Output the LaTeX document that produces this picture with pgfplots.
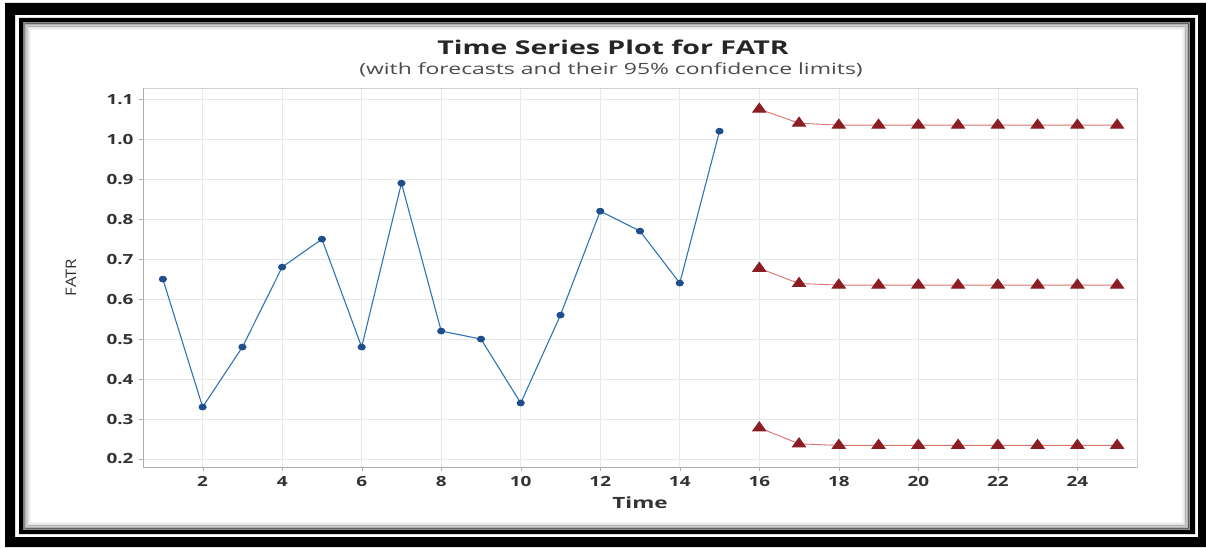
\documentclass[border=0pt]{standalone}
\usepackage{fontspec}
\setmainfont{Open Sans}
\newfontfamily\titlefont[FakeStretch=1.5]{Open Sans}
\newfontfamily\subfont[FakeStretch=1.48]{Open Sans}
\newfontfamily\labfont[FakeStretch=1.45]{Open Sans}
\newfontfamily\tickfont[FakeStretch=1.35]{Open Sans}
\newfontfamily\ylfont[FakeStretch=1.15]{Open Sans}
\usepackage{pgfplots}
\pgfplotsset{compat=1.18}
\definecolor{serblue}{HTML}{2E75B6}
\definecolor{markblue}{HTML}{1F4E8C}
\definecolor{fcred}{HTML}{8B1E24}
\definecolor{fcline}{HTML}{D9756F}
\begin{document}
\begin{tikzpicture}[x=1pt,y=1pt]
\useasboundingbox (0,0) rectangle (1206,547);
\fill[white] (0,0) rectangle (1206,547);
% frame
\fill[black,even odd rule] (5,0) rectangle (1206,544) (15,10) rectangle (1198,532);
\fill[black,even odd rule] (19,13) rectangle (1195,529) (23,17) rectangle (1190,525);
\foreach \i/\o in {0/0.45,1.5/0.3,3/0.2,4.5/0.12,6/0.06}{
  \draw[black,opacity=\o,line width=1.6pt] (23.8+\i,17.8+\i) rectangle (1189.2-\i,524.2-\i);
}
% titles
\node[font=\fontsize{19}{22}\selectfont\titlefont\bfseries, text=black!85] at (613,500) {Time Series Plot for FATR};
\node[font=\fontsize{15.5}{18}\selectfont\subfont, text=black!70] at (611,477) {(with forecasts and their 95\% confidence limits)};
\begin{axis}[
  at={(143pt,80pt)}, anchor=south west,
  width=994pt, height=379pt, scale only axis,
  xmin=0.5, xmax=25.5, ymin=0.18, ymax=1.128,
  xtick={2,4,...,24},
  ytick={0.2,0.3,0.4,0.5,0.6,0.7,0.8,0.9,1.0,1.1},
  yticklabel style={/pgf/number format/fixed,/pgf/number format/fixed zerofill,/pgf/number format/precision=1},
  /pgf/number format/assume math mode=true,
  tick label style={font=\fontsize{14}{16}\selectfont\tickfont\bfseries, text=black!80},
  tick align=outside, tick pos=left,
  major tick length=4pt,
  tick style={gray!60},
  grid=major,
  major grid style={gray!18, line width=0.6pt},
  axis line style={gray!35},
  xlabel={Time}, ylabel={FATR},
  xlabel style={font=\fontsize{15.5}{18}\selectfont\labfont\bfseries, text=black!80, at={(axis description cs:0.5,-0.095)}, anchor=center},
  ylabel style={font=\fontsize{14.5}{18}\selectfont\ylfont, text=black!80, at={(axis description cs:-0.0724,0.5)}, anchor=center},
  xticklabel style={yshift=-2pt},
  yticklabel style={xshift=-2pt},
  clip=false,
]
\draw[gray!65, line width=0.8pt] (rel axis cs:0,0) -- (rel axis cs:0,1);
\draw[gray!65, line width=0.8pt] (rel axis cs:0,0) -- (rel axis cs:1,0);
\addplot[serblue, line width=1.1pt, mark=*, mark size=2.8pt, mark options={fill=markblue, draw=markblue, xscale=1.25}] coordinates {
(1,0.65) (2,0.33) (3,0.48) (4,0.68) (5,0.75) (6,0.48) (7,0.89) (8,0.52) (9,0.50) (10,0.34) (11,0.56) (12,0.82) (13,0.77) (14,0.64) (15,1.02)};
\addplot[fcline, line width=0.9pt, mark=triangle*, mark size=6pt, mark options={fill=fcred, draw=fcred, xscale=1.25}] coordinates {
(16,1.075) (17,1.040) (18,1.035) (19,1.035) (20,1.035) (21,1.035) (22,1.035) (23,1.035) (24,1.035) (25,1.035)};
\addplot[fcline, line width=0.9pt, mark=triangle*, mark size=6pt, mark options={fill=fcred, draw=fcred, xscale=1.25}] coordinates {
(16,0.677) (17,0.639) (18,0.635) (19,0.635) (20,0.635) (21,0.635) (22,0.635) (23,0.635) (24,0.635) (25,0.635)};
\addplot[fcline, line width=0.9pt, mark=triangle*, mark size=6pt, mark options={fill=fcred, draw=fcred, xscale=1.25}] coordinates {
(16,0.278) (17,0.238) (18,0.234) (19,0.234) (20,0.234) (21,0.234) (22,0.234) (23,0.234) (24,0.234) (25,0.234)};
\end{axis}
\end{tikzpicture}
\end{document}
